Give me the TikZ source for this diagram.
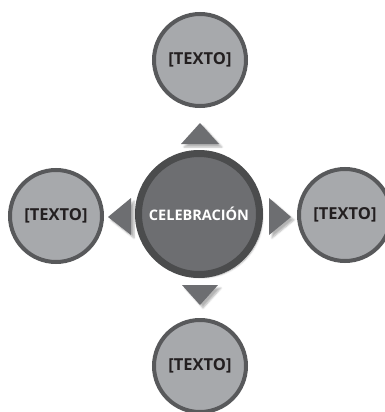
\documentclass[tikz,border=0pt]{standalone}
\usepackage{fontspec}
\setsansfont{Open Sans}
\usetikzlibrary{shadows.blur}
\definecolor{ringgray}{HTML}{58595B}
\definecolor{lightfill}{HTML}{A7A9AC}
\definecolor{midfill}{HTML}{6D6E71}
\definecolor{inkgray}{HTML}{231F20}
\tikzset{
  outer/.style={circle, draw=ringgray, line width=4pt, fill=lightfill,
    minimum size=92pt, inner sep=0pt, text=inkgray,
    font=\sffamily\bfseries\fontsize{16.5}{18}\selectfont},
  hub/.style={circle, draw=ringgray!85!black, line width=7pt, fill=midfill,
    minimum size=121pt, inner sep=0pt, text=white,
    font=\sffamily\bfseries\fontsize{14.5}{17}\selectfont,
    blur shadow={shadow xshift=3pt, shadow yshift=-3pt, shadow opacity=30, shadow blur steps=6}},
  tri/.style={fill=midfill,
    blur shadow={shadow xshift=3pt, shadow yshift=-3pt, shadow opacity=30, shadow blur steps=5}}
}
\begin{document}
\begin{tikzpicture}[x=1pt,y=-1pt]
  \useasboundingbox (0,0) rectangle (384,412);

  \node[hub] (fiesta) at (199,214) {CELEBRACIÓN};
  \node[outer] (top) at (200,60) {[TEXTO]};
  \node[outer] (bottom) at (200,366) {[TEXTO]};
  \node[outer] (left) at (56,216) {[TEXTO]};
  \node[outer] (right) at (345,215) {[TEXTO]};

  % arrow triangles
  \fill[tri] (200,123) -- (219,144) -- (181,144) -- cycle;
  \fill[tri] (200,305) -- (218,285) -- (182,285) -- cycle;
  \fill[tri] (108,217) -- (131,198) -- (131,235) -- cycle;
  \fill[tri] (291,217) -- (269,198) -- (269,235) -- cycle;
\end{tikzpicture}
\end{document}
